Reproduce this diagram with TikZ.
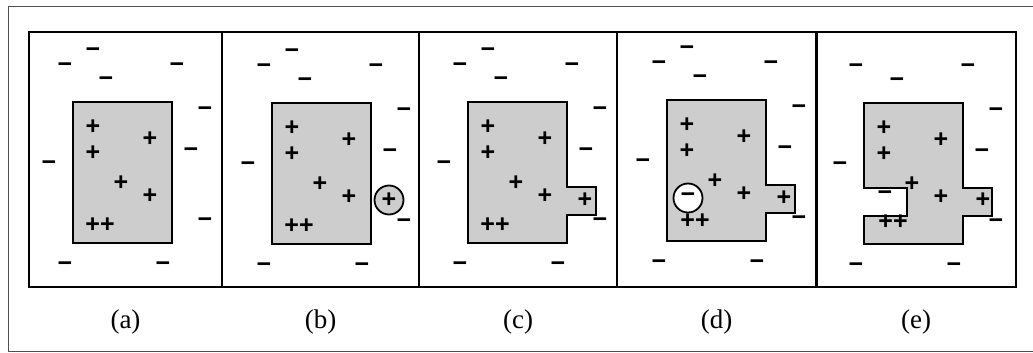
\documentclass[tikz,border=0pt]{standalone}
\usepackage{fontspec}
\setmainfont{Liberation Serif}
\newfontfamily\chargefont{Liberation Sans}
\usetikzlibrary{positioning}
\definecolor{regiongray}{RGB}{205,205,205}
\definecolor{framegray}{RGB}{80,80,80}
% charge positions, relative to the top left corner of the region
\newcommand\negrest{(-8,-34),(104,-34),(33,-20),(132,10),(118,51),(-24,64),(132,121),(-8,165),(90,165)}
\newcommand\posall{(20,25),(77,37),(20,51),(48,81),(77,94)}

\begin{document}
\begin{tikzpicture}[x=1pt, y=-1pt,
        poschg/.style={inner sep=0pt, font=\chargefont\bfseries\fontsize{25}{25}\selectfont},
        negchg/.style={inner sep=0pt, font=\chargefont\bfseries\fontsize{25}{25}\selectfont},
        region/.style={draw, fill=regiongray, line width=2pt},
        ionchg/.style={circle, draw, line width=1.8pt, minimum size=29pt, inner sep=0pt,
                       font=\chargefont\bfseries\fontsize{25}{25}\selectfont},
        caption/.style={font=\fontsize{27}{30}\selectfont}
    ]
    \useasboundingbox (0,0) rectangle (1033,353);
    \draw[framegray, line width=1pt] (1040,7) -- (8,7) -- (8,351.5) -- (1040,351.5);
    \draw[line width=2.2pt] (29,32) rectangle (1016,287);
    \foreach \x in {222,419,617,816.5}
        \draw[line width=2.2pt] (\x,32) -- (\x,287);

    % (a)
    \begin{scope}[shift={(73,102)}, name prefix=a-]
        \draw[region] (0,0) rectangle (99,141);
        \node[negchg] (m0) at (20,-49) {−};
        \foreach \p [count=\i] in \negrest
            \node[negchg] (m\i) at \p {−};
        \foreach \p [count=\i] in \posall
            \node[poschg] (p\i) at \p {+};
        \node[poschg] (pp) at (27,123) {++};
    \end{scope}

    % (b)
    \begin{scope}[shift={(272,103)}, name prefix=b-]
        \draw[region] (0,0) rectangle (99,141);
        \node[negchg] (m0) at (20,-49) {−};
        \foreach \p [count=\i] in \negrest
            \node[negchg] (m\i) at \p {−};
        \foreach \p [count=\i] in \posall
            \node[poschg] (p\i) at \p {+};
        \node[poschg] (pp) at (27,123) {++};
        \node[ionchg, fill=regiongray] (ion) at (117,97) {+};
    \end{scope}

    % (c)
    \begin{scope}[shift={(468,102)}, name prefix=c-]
        \draw[region] (0,0) -- (99,0) -- (99,85) -- (128,85) -- (128,113)
            -- (99,113) -- (99,141) -- (0,141) -- cycle;
        \node[negchg] (m0) at (20,-49) {−};
        \foreach \p [count=\i] in \negrest
            \node[negchg] (m\i) at \p {−};
        \foreach \p [count=\i] in \posall
            \node[poschg] (p\i) at \p {+};
        \node[poschg] (pp) at (27,123) {++};
        \node[poschg] (ion) at (117,98) {+};
    \end{scope}

    % (d)
    \begin{scope}[shift={(667,100)}, name prefix=d-]
        \draw[region] (0,0) -- (99,0) -- (99,85) -- (128,85) -- (128,113)
            -- (99,113) -- (99,141) -- (0,141) -- cycle;
        \node[negchg] (m0) at (20,-49) {−};
        \foreach \p [count=\i] in \negrest
            \node[negchg] (m\i) at \p {−};
        \foreach \p [count=\i] in \posall
            \node[poschg] (p\i) at \p {+};
        \node[poschg] (pp) at (28,121) {++};
        \node[poschg] (ion) at (117,98) {+};
        \node[ionchg, fill=white] (hole) at (21,98) {−};
    \end{scope}

    % (e)
    \begin{scope}[shift={(864,103)}, name prefix=e-]
        \draw[region] (0,0) -- (99,0) -- (99,85) -- (128,85) -- (128,113)
            -- (99,113) -- (99,141) -- (0,141) -- (0,113) -- (43,113)
            -- (43,85) -- (0,85) -- cycle;
        \foreach \p [count=\i] in \negrest
            \node[negchg] (m\i) at \p {−};
        \foreach \p [count=\i] in \posall
            \node[poschg] (p\i) at \p {+};
        \node[poschg] (pp) at (29,119) {++};
        \node[poschg] (ion) at (119,97) {+};
        \node[negchg] (hole) at (21,93) {−};
    \end{scope}

    % captions
    \node[caption] (la) at (125.5,322) {(a)};
    \node[caption] (lb) at (320.5,322) {(b)};
    \node[caption] (lc) at (518,322) {(c)};
    \node[caption] (ld) at (716.5,322) {(d)};
    \node[caption] (le) at (916,322) {(e)};
\end{tikzpicture}
\end{document}
